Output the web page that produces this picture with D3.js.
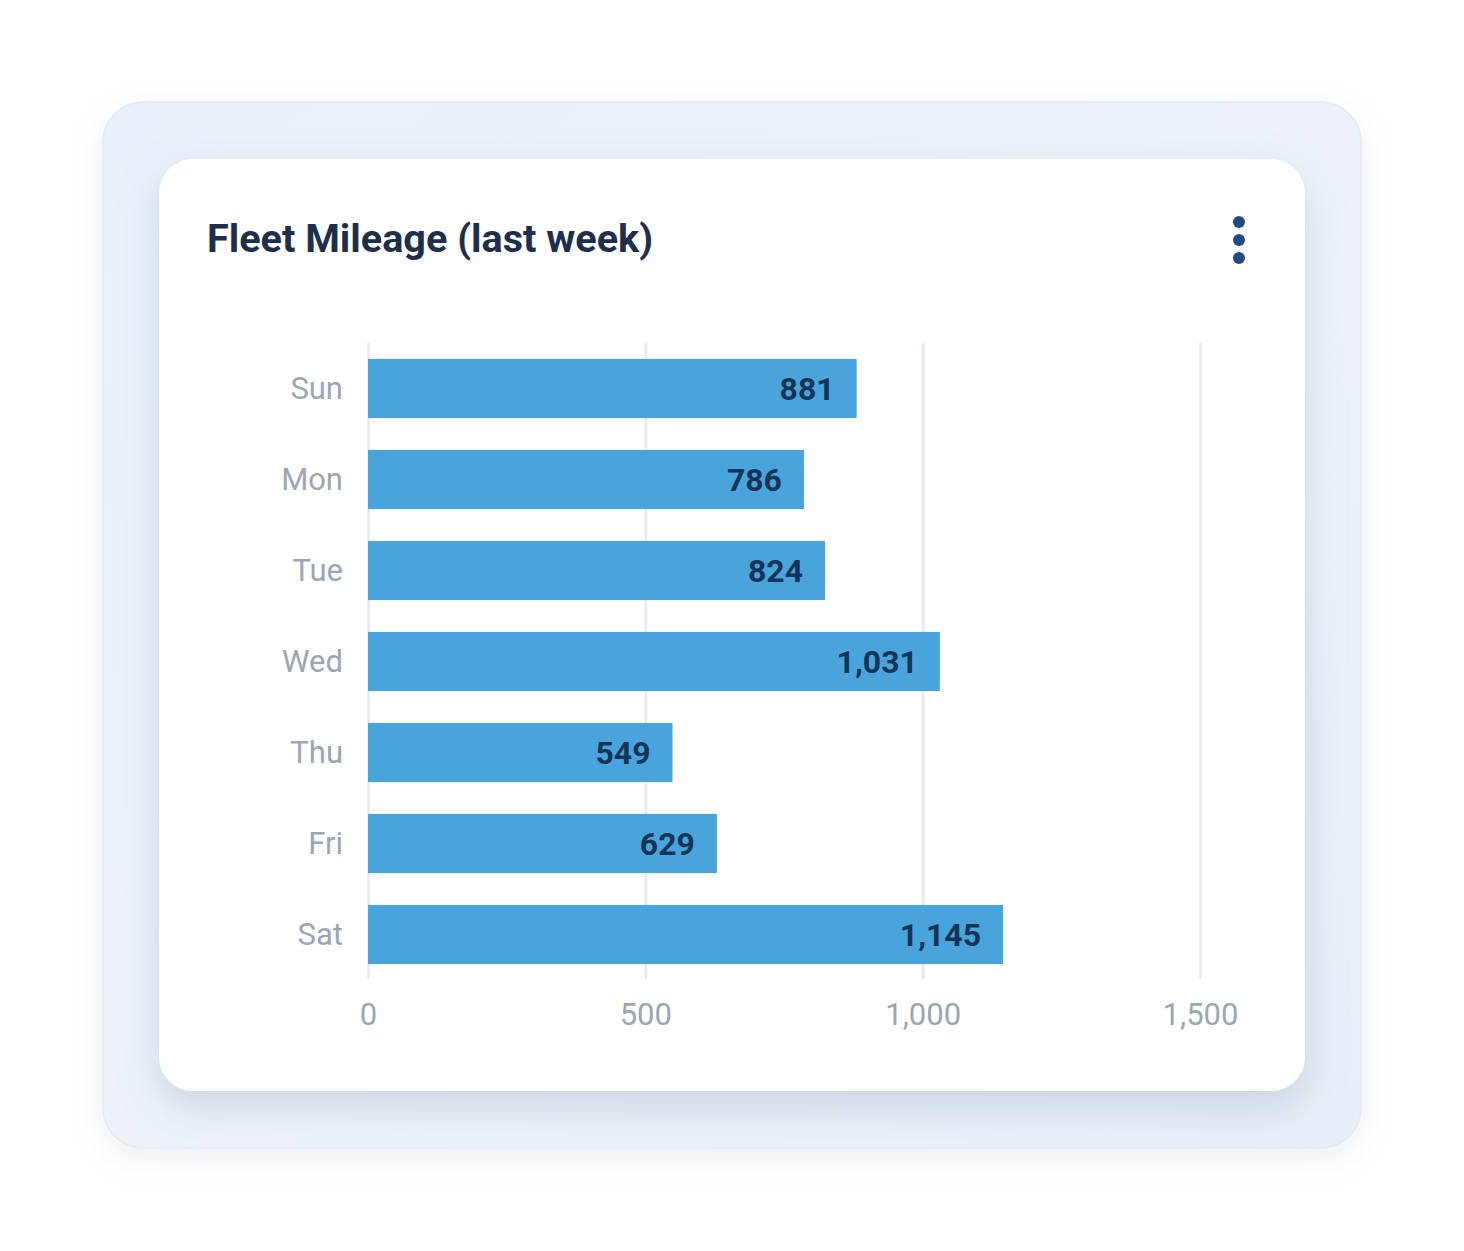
<!DOCTYPE html>
<html>
<head>
<meta charset="utf-8">
<script src="https://cdn.jsdelivr.net/npm/d3@7"></script>
<style>
  html, body { margin: 0; padding: 0; background: #ffffff; }
  svg { display: block; font-family: Roboto, "Noto Sans", sans-serif; }
</style>
</head>
<body>
<div id="chart"></div>
<script>
var days = ["Sun", "Mon", "Tue", "Wed", "Thu", "Fri", "Sat"];
var miles = [881, 786, 824, 1031, 549, 629, 1145];
var tickValues = [0, 500, 1000, 1500];
var title = "Fleet Mileage (last week)";

var W = 1464, H = 1251;
var plotLeft = 368, plotRight = 1200, plotTop = 343, plotBottom = 980;

var svg = d3.select("#chart").append("svg")
  .attr("width", W)
  .attr("height", H);

var defs = svg.append("defs");

var bgGrad = defs.append("linearGradient")
  .attr("id", "bgGrad")
  .attr("x1", "0").attr("y1", "0").attr("x2", "1").attr("y2", "1");
bgGrad.append("stop").attr("offset", "0%").attr("stop-color", "#e8f1f9");
bgGrad.append("stop").attr("offset", "55%").attr("stop-color", "#edf2f8");
bgGrad.append("stop").attr("offset", "100%").attr("stop-color", "#e6eef7");

var outerShadow = defs.append("filter").attr("id", "outerShadow")
  .attr("x", "-10%").attr("y", "-10%").attr("width", "120%").attr("height", "125%");
outerShadow.append("feDropShadow")
  .attr("dx", 0).attr("dy", 10).attr("stdDeviation", 14)
  .attr("flood-color", "#b8c6d4").attr("flood-opacity", 0.25);

var cardShadow = defs.append("filter").attr("id", "cardShadow")
  .attr("x", "-10%").attr("y", "-10%").attr("width", "120%").attr("height", "130%");
cardShadow.append("feDropShadow")
  .attr("dx", 0).attr("dy", 16).attr("stdDeviation", 20)
  .attr("flood-color", "#8fa6bd").attr("flood-opacity", 0.35);

// outer panel
svg.append("rect")
  .attr("x", 103).attr("y", 102)
  .attr("width", 1258).attr("height", 1046)
  .attr("rx", 40)
  .attr("fill", "url(#bgGrad)")
  .attr("stroke", "#e3ebf3")
  .attr("stroke-width", 1.5)
  .attr("filter", "url(#outerShadow)");

// card
svg.append("rect")
  .attr("x", 159).attr("y", 159)
  .attr("width", 1146).attr("height", 932)
  .attr("rx", 34)
  .attr("fill", "#ffffff")
  .attr("filter", "url(#cardShadow)");

svg.append("text")
  .attr("x", 207).attr("y", 252)
  .attr("font-size", 39.6)
  .attr("font-weight", 700)
  .attr("fill", "#1f2f4b")
  .text(title);

// kebab menu
svg.append("g").selectAll("circle")
  .data([222, 240, 258])
  .enter().append("circle")
  .attr("cx", 1239)
  .attr("cy", function (d) { return d; })
  .attr("r", 6)
  .attr("fill", "#224b7e");

var x = d3.scaleLinear().domain([0, 1500]).range([plotLeft, plotRight]);
var y = d3.scaleBand().domain(days).range([plotTop, plotBottom])
  .paddingInner(0.35).paddingOuter(0.175);

// gridlines
svg.append("g")
  .attr("class", "grid")
  .attr("transform", "translate(0," + (plotBottom - 1) + ")")
  .call(d3.axisBottom(x).tickValues(tickValues).tickSize(-(plotBottom - 1 - plotTop)).tickFormat(""))
  .call(function (g) { g.select(".domain").remove(); })
  .call(function (g) {
    g.selectAll("line").attr("stroke", "#e6ecf1").attr("stroke-width", 3);
  });

// x tick labels
svg.append("g")
  .attr("transform", "translate(0," + plotBottom + ")")
  .call(d3.axisBottom(x).tickValues(tickValues).tickSize(0).tickPadding(0).tickFormat(d3.format(",")))
  .call(function (g) { g.select(".domain").remove(); })
  .call(function (g) {
    g.selectAll("text")
      .attr("y", 45)
      .attr("dy", 0)
      .attr("font-size", 31)
      .attr("font-family", "Roboto, sans-serif")
      .attr("fill", "#9ba6b5");
  });

// day labels
svg.append("g")
  .attr("transform", "translate(" + (plotLeft - 25) + ",0)")
  .call(d3.axisLeft(y).tickSize(0).tickPadding(0))
  .call(function (g) { g.select(".domain").remove(); })
  .call(function (g) {
    g.selectAll("text")
      .attr("dy", "0.35em")
      .attr("font-size", 31)
      .attr("font-family", "Roboto, sans-serif")
      .attr("fill", "#9ba6b5");
  });

// bars
svg.append("g").selectAll("rect")
  .data(miles)
  .enter().append("rect")
  .attr("x", x(0))
  .attr("y", function (d, i) { return y(days[i]); })
  .attr("width", function (d) { return x(d) - x(0); })
  .attr("height", y.bandwidth())
  .attr("fill", "#4aa4dc");

// value labels
svg.append("g").selectAll("text")
  .data(miles)
  .enter().append("text")
  .attr("x", function (d) { return x(d) - 22; })
  .attr("y", function (d, i) { return y(days[i]) + y.bandwidth() / 2; })
  .attr("dy", "0.36em")
  .attr("text-anchor", "end")
  .attr("font-size", 32)
  .attr("font-weight", 700)
  .attr("fill", "#163457")
  .text(function (d) { return d3.format(",")(d); });
</script>
</body>
</html>
